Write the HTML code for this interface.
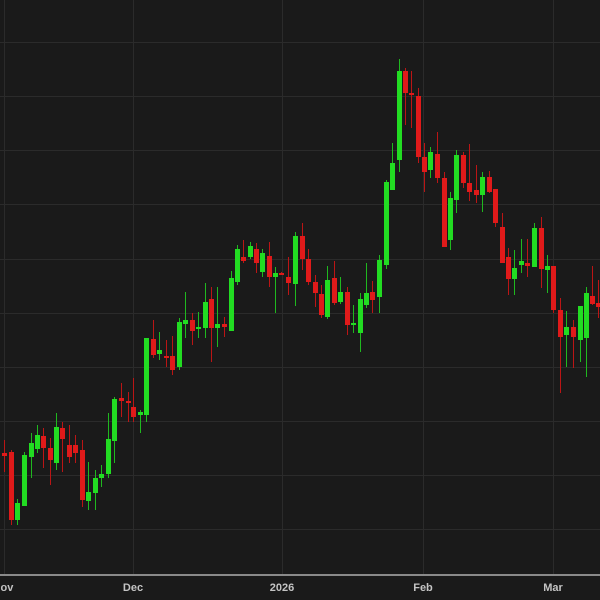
<!DOCTYPE html>
<html><head><meta charset="utf-8"><style>
html,body{margin:0;padding:0;background:#1a1a1a;}
svg{display:block;}
text{font-family:"Liberation Sans",sans-serif;font-weight:bold;font-size:11px;fill:#c4c4c4;}
</style></head><body>
<svg width="600" height="600" viewBox="0 0 600 600" xmlns="http://www.w3.org/2000/svg">
<rect width="600" height="600" fill="#1a1a1a"/>
<g stroke="#2b2b2b" stroke-width="1">
<line x1="0" x2="600" y1="42.5" y2="42.5"/>
<line x1="0" x2="600" y1="96.5" y2="96.5"/>
<line x1="0" x2="600" y1="150.5" y2="150.5"/>
<line x1="0" x2="600" y1="204.5" y2="204.5"/>
<line x1="0" x2="600" y1="259.5" y2="259.5"/>
<line x1="0" x2="600" y1="313.5" y2="313.5"/>
<line x1="0" x2="600" y1="367.5" y2="367.5"/>
<line x1="0" x2="600" y1="421.5" y2="421.5"/>
<line x1="0" x2="600" y1="475.5" y2="475.5"/>
<line x1="0" x2="600" y1="529.5" y2="529.5"/>
<line x1="4.5" x2="4.5" y1="0" y2="574"/>
<line x1="133.5" x2="133.5" y1="0" y2="574"/>
<line x1="282.5" x2="282.5" y1="0" y2="574"/>
<line x1="423.5" x2="423.5" y1="0" y2="574"/>
<line x1="553.5" x2="553.5" y1="0" y2="574"/>
</g>
<rect x="0" y="574" width="600" height="2" fill="#8a8a8a"/>
<text x="3" y="591" text-anchor="middle">Nov</text>
<text x="133" y="591" text-anchor="middle">Dec</text>
<text x="282" y="591" text-anchor="middle">2026</text>
<text x="423" y="591" text-anchor="middle">Feb</text>
<text x="553" y="591" text-anchor="middle">Mar</text>
<g id="c"></g>
</svg>
<script>
var d=[
[4,'r',440,472,453,456],[10.5,'r',450,525,452,520],[17,'g',499,525,503,520],[24,'g',452,506,455,506],
[30.5,'g',433,478,443,457],[36.5,'g',425,453,435,449],[43,'r',428,468,436,448],[49.5,'r',438,485,448,460],
[55.5,'g',413,470,427,463],[62,'r',422,472,428,439],[69,'r',425,463,445,457],[75,'r',435,463,445,453],
[81.5,'r',440,507,450,500],[88,'g',462,510,492,501],[94.5,'g',470,510,478,493],[101,'g',465,487,474,478],
[107.5,'g',413,478,439,474],[114,'g',397,463,399,441],[121,'r',383,417,398,401],[127.5,'r',392,422,401,403],
[133,'r',378,422,407,417],[140,'g',410,433,412,415],[146,'g',338,422,338,415],[152.5,'r',320,358,339,355],
[159,'g',332,360,350,354],[166,'r',340,367,356,358],[171.5,'r',336,375,356,370],[178.5,'g',318,370,322,367],
[185,'g',292,338,320,324],[191.5,'r',313,345,320,331],[197.5,'g',312,338,327,329],[204.5,'g',283,338,302,328],
[211,'r',287,362,299,328],[217,'g',287,347,324,328],[224,'r',317,337,324,327],[230.5,'g',271,331,278,331],
[236.5,'g',245,285,249,282],[243,'r',240,263,257,261],[250,'g',242,259,246,257],[256,'r',243,273,249,263],
[262,'g',249,277,253,272],[268.5,'r',242,287,256,277],[275,'g',267,313,273,277],[281,'r',272,275,273,274],
[288,'r',257,295,277,283],[295,'g',232,306,236,284],[301.5,'r',223,270,236,259],[308,'r',249,285,259,282],
[314.5,'r',275,307,282,293],[320.5,'r',285,318,294,315],[326.5,'g',266,319,280,317],[333.5,'r',261,305,278,303],
[340,'g',277,304,292,302],[347,'r',287,335,292,325],[353,'g',305,333,323,325],[359.5,'g',293,352,299,333],
[365.5,'g',263,308,293,305],[372,'r',281,313,292,300],[378.5,'g',255,313,260,297],[385.5,'g',180,269,182,265],
[391.5,'g',143,190,163,190],[398.5,'g',59,172,71,160],[404.5,'r',68,125,71,93],[411,'r',71,128,93,95],
[417.5,'r',88,163,96,157],[423.5,'r',143,192,157,172],[430,'g',147,178,152,170],[436.5,'r',132,183,154,178],
[443.5,'r',172,247,178,247],[449.5,'g',192,250,198,240],[456,'g',150,213,155,200],[462.5,'r',152,188,155,183],
[469,'r',144,201,183,192],[475.5,'r',165,203,190,195],[482,'g',172,212,177,195],[488.5,'r',171,193,177,192],
[495,'r',189,227,189,223],[501.5,'r',213,263,227,263],[507.5,'r',248,295,257,279],[514,'g',250,295,268,279],
[520.5,'g',239,273,261,265],[527,'r',239,277,263,266],[533.5,'g',223,267,228,267],[540.5,'r',217,288,228,269],
[546.5,'g',255,293,266,270],[553,'r',266,313,266,310],[559.5,'r',298,393,310,337],[565.5,'g',311,367,327,335],
[572.5,'r',320,368,327,337],[579.5,'g',306,362,306,340],[585.5,'g',287,377,293,338],[591.5,'r',266,305,296,304],
[598,'r',280,318,303,307]
];
var g=document.getElementById('c'),s='';
d.forEach(function(c){
 var col=c[1]=='g'?'#22dc22':'#e01a1a';
 var wcol=c[1]=='g'?'#1fb81f':'#bb1515';
 var x=Math.round(c[0]);
 s+='<rect x="'+(x)+'" y="'+c[2]+'" width="1" height="'+(c[3]-c[2])+'" fill="'+wcol+'"/>';
 var h=Math.max(2,c[5]-c[4]);
 s+='<rect x="'+(x-2)+'" y="'+c[4]+'" width="5" height="'+h+'" fill="'+col+'"/>';
});
g.innerHTML=s;
</script>
</body></html>
